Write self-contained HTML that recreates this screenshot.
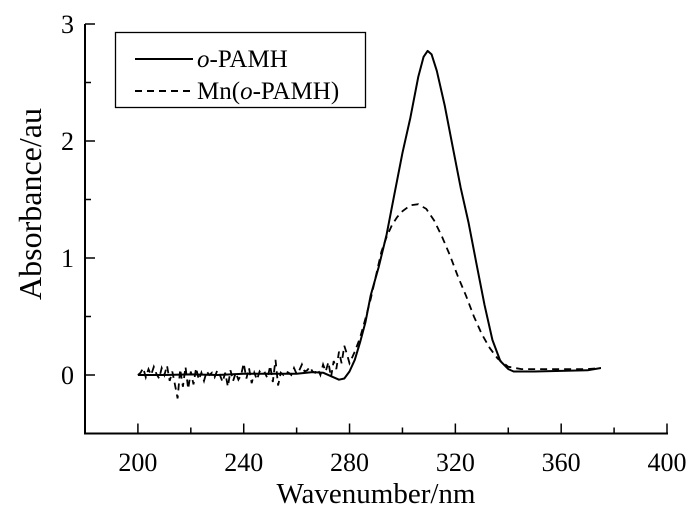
<!DOCTYPE html>
<html><head><meta charset="utf-8"><style>
body{margin:0;background:#fff;}
svg text{font-family:"Liberation Serif",serif;fill:#000;}
</style></head><body>
<svg id="chart" width="700" height="515" viewBox="0 0 700 515" xmlns="http://www.w3.org/2000/svg">
<g id="axes"></g>
<g id="series"></g>
<g>
<rect x="115.5" y="32.5" width="250" height="75" fill="#fff" stroke="#000" stroke-width="1.3"/>
<line x1="135" y1="59" x2="193" y2="59" stroke="#000" stroke-width="2"/>
<text x="197" y="67" font-size="25"><tspan font-style="italic">o</tspan>-PAMH</text>
<line x1="135" y1="91" x2="190" y2="91" stroke="#000" stroke-width="2" stroke-dasharray="7,5"/>
<text x="197" y="99" font-size="25">Mn(<tspan font-style="italic">o</tspan>-PAMH)</text>
</g>
<text transform="translate(41,204) rotate(-90)" text-anchor="middle" font-size="32">Absorbance/au</text>
<text x="376" y="503" text-anchor="middle" font-size="29">Wavenumber/nm</text>
</svg>
<script>
const xTicks=[200,240,280,320,360,400];
const yTicks=[0,1,2,3];
const solidX=[200,210,220,230,240,250,260,266,270,273,276,278,280,282,284,286,288,291,294,297,300,303,306,308,309.5,311,313,316,319,322,325,328,331,334,337,340,342,350,360,370,375];
const solidY=[0,0,0.005,0,0.01,0.01,0.01,0.025,0.02,-0.01,-0.04,-0.03,0.03,0.13,0.28,0.45,0.68,0.92,1.2,1.55,1.9,2.2,2.55,2.72,2.77,2.74,2.6,2.3,1.95,1.6,1.3,0.95,0.6,0.3,0.12,0.05,0.03,0.03,0.035,0.04,0.06];
const noiseX=[201,202,203,204,205,206,207,208,209,210,211,212,213,214,215,216,217,218,219,220,221,222,223,224,225,226,227,228,229,230,231,232,233,234,235,236,237,238,239,240,241,242,243,244,245,246,247,248,249,250,251,252,253,254,255,256,257,258,259,260,261,262,263,264,265,266,267,268,269,270,271,272,273,274,275,276,277,278,279,280];
const noiseY=[0.02,0.06,-0.02,0.05,0.0,0.07,0.01,-0.03,0.06,0.0,0.08,-0.05,0.03,-0.08,-0.2,0.05,-0.1,0.07,-0.12,0.03,-0.08,0.06,-0.04,0.02,-0.05,0.03,0.0,0.02,-0.02,0.04,0.0,-0.06,0.02,-0.1,0.04,-0.05,0.02,-0.04,0.0,0.1,-0.03,0.06,-0.07,0.02,-0.04,0.03,0.0,0.02,-0.03,0.08,-0.06,0.13,-0.09,0.02,0.0,0.03,0.02,0.0,0.06,0.01,0.04,0.09,0.03,0.04,0.07,0.03,0.02,0.05,0.0,0.09,0.03,0.11,-0.02,0.12,0.05,0.2,0.1,0.25,0.18,0.1];
const dashX=[280,282,284,286,288,290,292,294,296,298,300,303,306,309,312,315,318,321,324,327,330,333,336,340,345,350,360,370,375];
const dashY=[0.1,0.2,0.32,0.48,0.65,0.85,1.05,1.18,1.28,1.35,1.4,1.45,1.46,1.42,1.32,1.18,1.02,0.84,0.68,0.5,0.35,0.23,0.14,0.07,0.05,0.05,0.05,0.05,0.06];
const NS="http://www.w3.org/2000/svg";
const X=v=>85+(v-180)*(667-85)/220;
const Y=v=>375-v*(375-141)/2;
function mk(t,a,p){const e=document.createElementNS(NS,t);for(const k in a)e.setAttribute(k,a[k]);p.appendChild(e);return e;}
const ax=document.getElementById('axes');
const yAxis=mk('line',{x1:85,y1:Y(3),x2:85,y2:433.5,stroke:'#000','stroke-width':2},ax);


const xAxis=mk('line',{x1:84,y1:433.5,x2:668,y2:433.5,stroke:'#000','stroke-width':2},ax);


for(let v=-0.5;v<=3.01;v+=0.5){const major=Math.abs(v-Math.round(v))<1e-6;
 const t=mk('line',{x1:85,x2:85+(major?10:6),y1:Y(v),y2:Y(v),stroke:'#000','stroke-width':1.5},ax);
 
 }
yTicks.forEach(v=>{const t=mk('text',{x:74,y:Y(v)+9,'text-anchor':'end','font-size':26},ax);t.textContent=v;
 
 });
for(let v=200;v<=400;v+=20){const major=v%40===0;
 const t=mk('line',{x1:X(v),x2:X(v),y1:433.5,y2:433.5-(major?10:6),stroke:'#000','stroke-width':1.5},ax);
 
 }
xTicks.forEach(v=>{const t=mk('text',{x:X(v),y:471,'text-anchor':'middle','font-size':26},ax);t.textContent=v;
 
 });
const se=document.getElementById('series');
const pts=(xs,ys)=>xs.map((x,i)=>X(x).toFixed(1)+','+Y(ys[i]).toFixed(1)).join(' ');
const dAll=[200].concat(noiseX,dashX.slice(1));const dAllY=[0].concat(noiseY,dashY.slice(1));
const d=mk('polyline',{points:pts(dAll,dAllY),fill:'none',stroke:'#000','stroke-width':1.8,'stroke-dasharray':'7,5'},se);


const s=mk('polyline',{points:pts(solidX,solidY),fill:'none',stroke:'#000','stroke-width':2,'stroke-linejoin':'round'},se);


</script>
</body></html>
